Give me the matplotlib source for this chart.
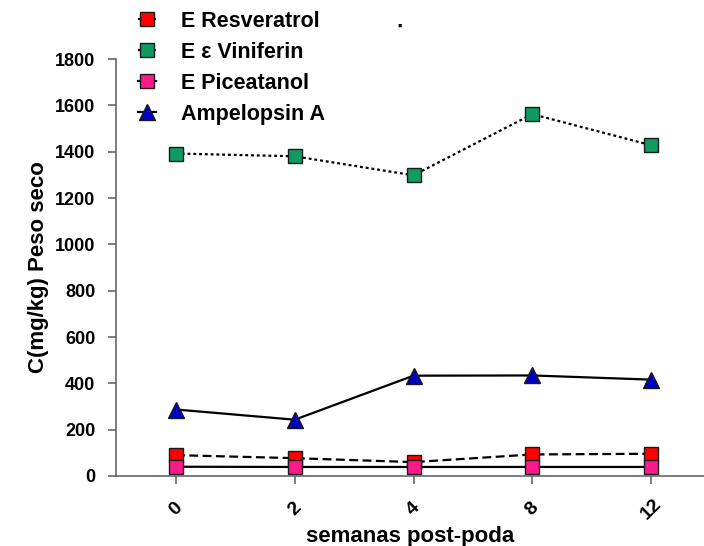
import matplotlib
matplotlib.use("Agg")
import matplotlib.pyplot as plt
from matplotlib import rcParams

rcParams["font.family"] = ["Liberation Sans", "DejaVu Sans"]
rcParams["font.weight"] = "bold"

weeks = ["0", "2", "4", "8", "12"]
resveratrol = [90, 77, 60, 93, 96]
viniferin = [1392, 1380, 1298, 1562, 1428]
piceatanol = [40, 39, 39, 39, 39]
ampelopsin = [287, 243, 433, 434, 416]

x = list(range(len(weeks)))

fig = plt.figure(figsize=(7.04, 5.46), dpi=100)
ax = fig.add_axes([116 / 704, 70 / 546, 588 / 704, 417 / 546])

mk = dict(markersize=10, markeredgecolor="#1a1a1a", markeredgewidth=1.0)
ax.plot(x, resveratrol, ls=(0, (4, 2)), lw=1.6, color="black", marker="s",
        markerfacecolor="#ff0000", label="E Resveratrol", **mk)
ax.plot(x, viniferin, ls=(0, (1.3, 1.3)), lw=1.6, color="black", marker="s",
        markerfacecolor="#0f9a64", label="E \u03b5 Viniferin", **mk)
ax.plot(x, piceatanol, ls="-", lw=1.6, color="black", marker="s",
        markerfacecolor="#ff1a8c", label="E Piceatanol", **mk)
ax.plot(x, ampelopsin, ls="-", lw=1.6, color="black", marker="^",
        markerfacecolor="#0000c0", label="Ampelopsin A",
        markersize=11, markeredgecolor="#1a1a1a", markeredgewidth=1.0)

ax.set_xlim(-0.505, 4.446)
ax.set_ylim(0, 1800)
ax.set_yticks(range(0, 1801, 200))
ax.set_xticks(x)
ax.set_xticklabels(weeks, rotation=45, ha="center", va="center")

for side in ("top", "right"):
    ax.spines[side].set_visible(False)
for side in ("left", "bottom"):
    ax.spines[side].set_color("#666666")
    ax.spines[side].set_linewidth(1.2)
ax.tick_params(axis="both", colors="#666666", labelcolor="black",
               length=6, width=1.2, labelsize=13)
ax.tick_params(axis="x", labelsize=14, pad=18)
ax.tick_params(axis="y", pad=9)

ax.set_xlabel("semanas post-poda", fontsize=16, fontweight="bold", labelpad=2)
ax.set_ylabel("C(mg/kg) Peso seco", fontsize=16, fontweight="bold", labelpad=4)

leg = ax.legend(loc="upper left", bbox_to_anchor=(138 / 704, 1 - 11 / 546),
                bbox_transform=fig.transFigure, frameon=False, fontsize=15.5,
                handlelength=0.85, handletextpad=1.15, labelspacing=0.46,
                borderpad=0, borderaxespad=0)
for t in leg.get_texts():
    t.set_fontweight("bold")

fig.text(400 / 704, 1 - 27 / 546, "\u25aa", fontsize=9, color="black",
         ha="center", va="center")

fig.savefig("out.png", dpi=100)
